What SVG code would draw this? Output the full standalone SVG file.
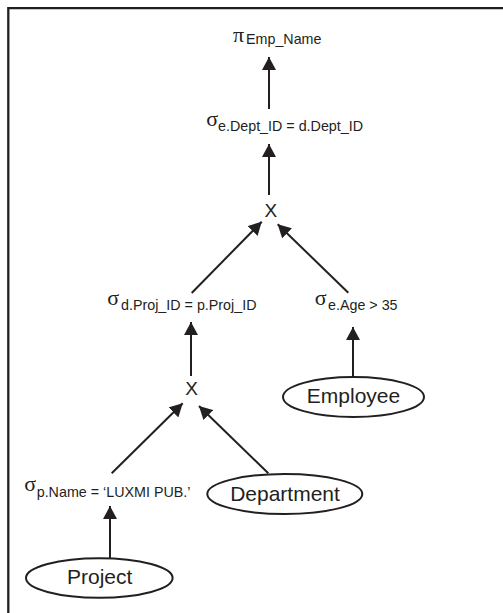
<svg xmlns="http://www.w3.org/2000/svg" width="503" height="613" viewBox="0 0 503 613">
<style>
  .frame { stroke: #231f20; stroke-width: 2.3; fill: none; }
  .edge { stroke: #231f20; stroke-width: 2; fill: none; marker-end: url(#arrow); }
  .rel { stroke: #231f20; stroke-width: 2; fill: #ffffff; }
  .sym { font-family: "Liberation Serif", "DejaVu Serif", serif; font-size: 22px; fill: #231f20; }
  .sub { font-family: "Liberation Sans", Arial, sans-serif; font-size: 14.3px; fill: #231f20; }
  .op { font-family: "Liberation Sans", Arial, sans-serif; font-size: 19px; fill: #231f20; text-anchor: middle; }
  .name { font-family: "Liberation Sans", Arial, sans-serif; font-size: 21px; fill: #231f20; text-anchor: middle; }
</style>
<defs>
  <marker id="arrow" markerUnits="userSpaceOnUse" markerWidth="14" markerHeight="14" refX="13" refY="7" orient="auto">
    <path d="M0,0 L13,7 L0,14 z" fill="#231f20"/>
  </marker>
</defs>
<rect width="503" height="613" fill="#ffffff"/>
<path class="frame" d="M8.3,613 V8.2 H503"/>

<g id="connectors">
  <line class="edge" x1="269" y1="109" x2="269" y2="57"/>
  <line class="edge" x1="269" y1="195" x2="269" y2="144"/>
  <line class="edge" x1="191.7" y1="293" x2="261.7" y2="221.7"/>
  <line class="edge" x1="348.3" y1="292.7" x2="277.7" y2="224.3"/>
  <line class="edge" x1="353" y1="377" x2="353" y2="327"/>
  <line class="edge" x1="191" y1="376" x2="191" y2="322"/>
  <line class="edge" x1="111.7" y1="473.3" x2="182.7" y2="403.3"/>
  <line class="edge" x1="268.3" y1="473.3" x2="199" y2="406"/>
  <line class="edge" x1="110" y1="558" x2="110" y2="506"/>
</g>

<g id="project-emp-name">
  <text><tspan class="sym" x="233" y="41.5">π</tspan><tspan class="sub" x="246" y="44">Emp_Name</tspan></text>
</g>
<g id="select-dept-id">
  <text><tspan class="sym" x="206.3" y="125.5">σ</tspan><tspan class="sub" x="218" y="131">e.Dept_ID = d.Dept_ID</tspan></text>
</g>
<g id="cross-top">
  <text class="op" x="270.8" y="217">X</text>
</g>
<g id="select-proj-id">
  <text><tspan class="sym" x="107.3" y="304.5">σ</tspan><tspan class="sub" x="121" y="310">d.Proj_ID = p.Proj_ID</tspan></text>
</g>
<g id="select-age">
  <text><tspan class="sym" x="314.8" y="304.5">σ</tspan><tspan class="sub" x="328" y="310">e.Age &gt; 35</tspan></text>
</g>
<g id="employee">
  <ellipse class="rel" cx="353.5" cy="397" rx="70.5" ry="20"/>
  <text class="name" x="353.5" y="403">Employee</text>
</g>
<g id="cross-bottom">
  <text class="op" x="191.6" y="395">X</text>
</g>
<g id="select-name">
  <text><tspan class="sym" x="24.3" y="490.5">σ</tspan><tspan class="sub" x="36.7" y="496.7">p.Name = ‘LUXMI PUB.’</tspan></text>
</g>
<g id="department">
  <ellipse class="rel" cx="284.8" cy="494" rx="77.5" ry="20"/>
  <text class="name" x="285" y="501">Department</text>
</g>
<g id="project">
  <ellipse class="rel" cx="99.3" cy="578" rx="73.3" ry="19.7"/>
  <text class="name" x="99.7" y="584">Project</text>
</g>
</svg>
